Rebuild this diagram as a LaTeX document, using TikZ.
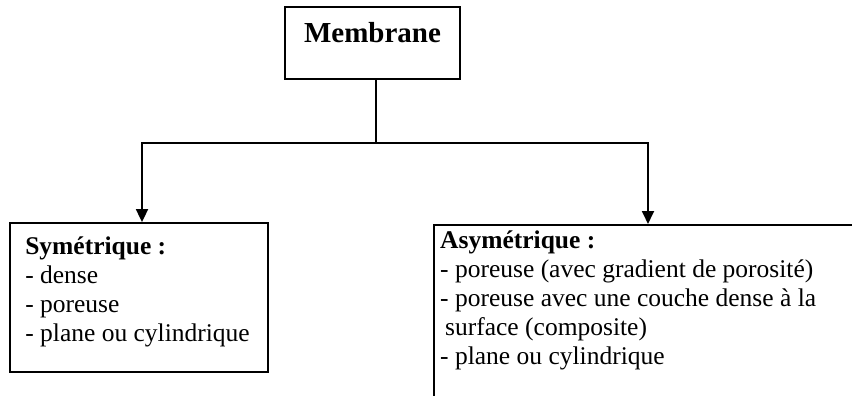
\documentclass[tikz,border=0pt]{standalone}
\usepackage{fontspec}
\setmainfont{Liberation Serif}
\usetikzlibrary{arrows.meta, positioning}

\tikzset{
  hop/.style={draw, line width=1.8pt, inner sep=0pt},
  chu/.style={align=left, inner sep=0pt, font=\fontsize{25.5}{29}\selectfont},
  noi/.style={line width=1.8pt},
  muiten/.style={line width=1.8pt, -{Triangle[width=12pt,length=13pt]}}
}

\begin{document}
\begin{tikzpicture}[x=1pt, y=-1pt]
    % Khung cua hinh
    \useasboundingbox (0,0) rectangle (852,396);
    \clip (0,0) rectangle (852,396);

    % Hop "Membrane" o tren
    \node[hop, minimum width=175pt, text height=35.5pt, text depth=36.5pt,
          font=\fontsize{29}{33}\selectfont\bfseries] (membrane) at (372.5,43) {Membrane};

    % Hop ben trai
    \node[hop, minimum width=258pt, minimum height=149pt] (sym) at (139,297.5) {};
    \node[chu, anchor=north west] (symtext) at ([shift={(16pt,-14pt)}]sym.north west)
        {\textbf{Symétrique :}\\- dense\\- poreuse\\- plane ou cylindrique};

    % Hop ben phai (bi cat o mep)
    \node[hop, minimum width=440pt, minimum height=200pt, anchor=north west] (asym) at (433,224) {};
    \node[chu, anchor=north west] (asymtext) at ([shift={(7pt,-7pt)}]asym.north west)
        {\textbf{Asymétrique :}\\- poreuse (avec gradient de porosité)\\- poreuse avec une couche dense à la\\\hspace*{5pt}surface (composite)\\- plane ou cylindrique};

    % Duong noi va mui ten
    \coordinate (re) at (376,143);
    \draw[noi] (membrane.south -| re) -- (re);
    \draw[muiten] (re) -| ([xshift=3pt]sym.north);
    \draw[muiten] (re) -| ([xshift=215pt]asym.north west);
\end{tikzpicture}
\end{document}
